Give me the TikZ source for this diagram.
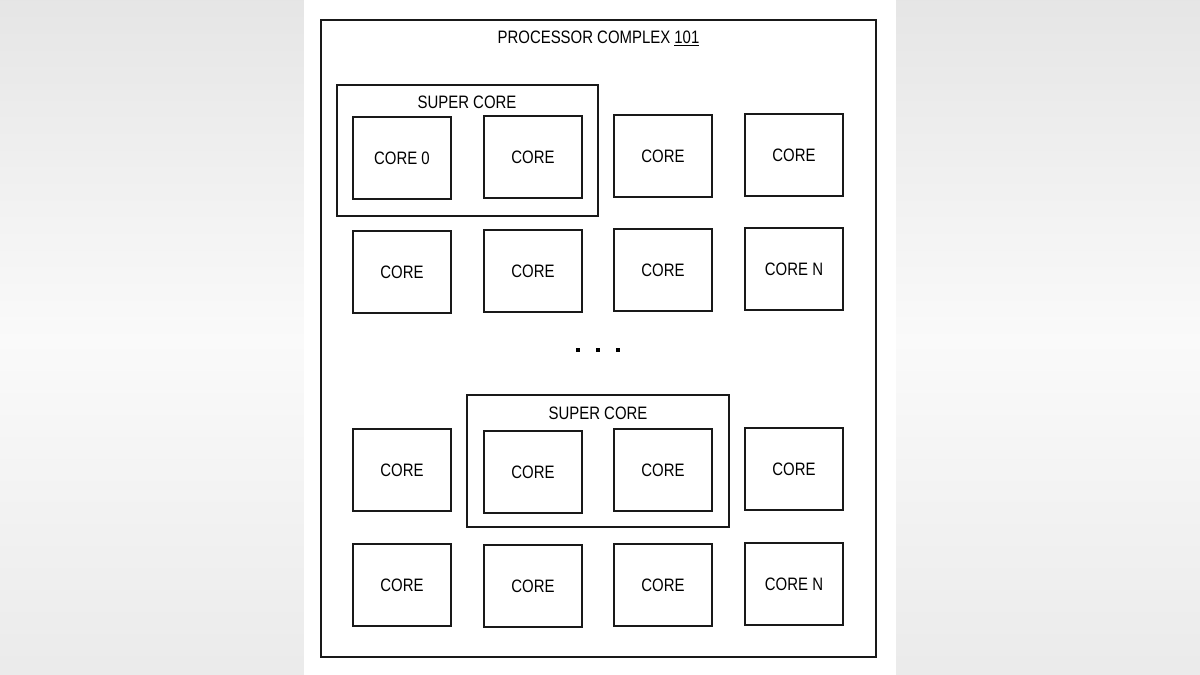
\documentclass[tikz,border=0pt]{standalone}
\usepackage{fontspec}
\setmainfont[FakeStretch=0.83]{Liberation Sans}
\tikzset{
  core/.style={draw=black!90, line width=2pt, minimum width=98pt, minimum height=82pt, inner sep=0pt, font=\fontsize{18pt}{20pt}\selectfont},
  supercore/.style={draw=black!90, line width=2pt, inner sep=0pt},
  lbl/.style={inner sep=0pt, font=\fontsize{18pt}{20pt}\selectfont}
}
\begin{document}
\begin{tikzpicture}[x=1pt,y=-1pt]
\useasboundingbox (0,0) rectangle (1200,675);
\shade[top color=black!10, bottom color=black!2] (0,0) rectangle (1200,340);
\shade[top color=black!2, bottom color=black!8] (0,340) rectangle (1200,675);
\fill[white] (304,0) rectangle (896,675);

\draw[draw=black!90, line width=2pt] (321,20) rectangle (876,657);
\node[lbl] (title) at (598.5,38.5) {PROCESSOR COMPLEX \underline{101}};

% super core, top left
\node[supercore, minimum width=261pt, minimum height=131pt] (sc1) at (467.5,150.5) {};
\node[lbl] (sc1lbl) at (467,102) {SUPER CORE};
\node[core] (c00) at (402,158) {CORE 0};
\node[core] (c01) at (533,157) {CORE};
\node[core] (c02) at (663,156) {CORE};
\node[core] (c03) at (794,155) {CORE};

\node[core] (c10) at (402,272) {CORE};
\node[core] (c11) at (533,271) {CORE};
\node[core] (c12) at (663,270) {CORE};
\node[core] (c13) at (794,269) {CORE N};

% dots
\fill (575.7,348.3) rectangle +(4,4);
\fill (596.3,348.3) rectangle +(4,4);
\fill (616.3,348.3) rectangle +(4,4);

% super core, bottom middle
\node[supercore, minimum width=262pt, minimum height=132pt] (sc2) at (598,461) {};
\node[lbl] (sc2lbl) at (598,413.3) {SUPER CORE};
\node[core] (c20) at (402,470) {CORE};
\node[core] (c21) at (533,472) {CORE};
\node[core] (c22) at (663,470) {CORE};
\node[core] (c23) at (794,469) {CORE};

\node[core] (c30) at (402,585) {CORE};
\node[core] (c31) at (533,586) {CORE};
\node[core] (c32) at (663,585) {CORE};
\node[core] (c33) at (794,584) {CORE N};

\end{tikzpicture}
\end{document}
